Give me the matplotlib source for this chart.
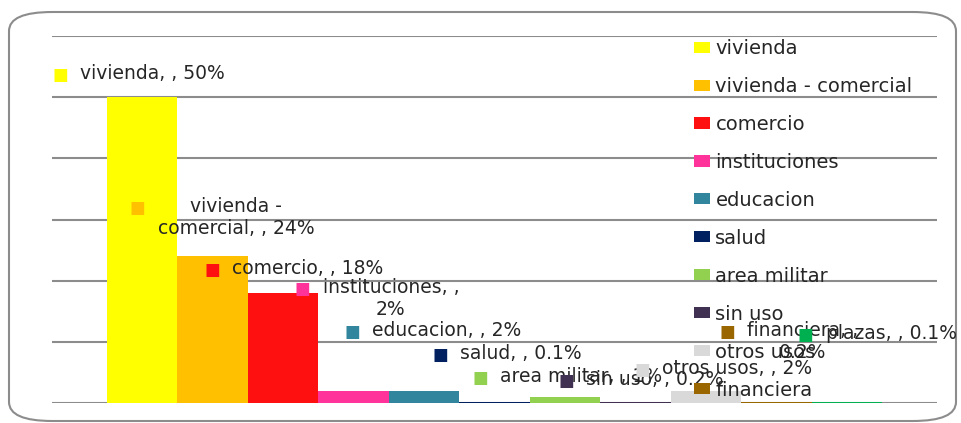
import matplotlib.pyplot as plt
from matplotlib.patches import FancyBboxPatch

# data
categorias = ["vivienda", "vivienda - comercial", "comercio", "instituciones",
              "educacion", "salud", "area militar", "sin uso", "otros usos",
              "financiera", "plazas"]
porcentajes = [50, 24, 18, 2, 2, 0.1, 1, 0.2, 2, 0.2, 0.1]
etiquetas = ["vivienda, , 50%", "vivienda -\ncomercial, , 24%", "comercio, , 18%",
             "instituciones, ,\n2%", "educacion, , 2%", "salud, , 0.1%",
             "area militar, , 1%", "sin uso, , 0.2%", "otros usos, , 2%",
             "financiera, ,\n0.2%", "plazas, , 0.1%"]
colores = ["#FFFF00", "#FFC000", "#FF1010", "#FF3399", "#31859C", "#002060",
           "#92D050", "#403152", "#D9D9D9", "#996600", "#00B050"]

# label square offset from bar top (pixels)
offsets = [(-82, 22), (-75, 48), (-71, 23), (-51, 102), (-72, 59), (-54, 47),
           (-85, 19), (-69, 21), (-64, 21), (-49, 70), (-41, 67)]

plt.rcParams['font.family'] = ['DejaVu Sans']
W, H = 962, 423
fig = plt.figure(figsize=(9.62, 4.23), dpi=100)
fig.patch.set_facecolor("white")

frame = FancyBboxPatch((9 / W, 1 - 421 / H), 947 / W, 409 / H,
                       boxstyle="round,pad=0,rounding_size=0.045",
                       transform=fig.transFigure, facecolor="none",
                       edgecolor="#8c8c8c", linewidth=1.5, zorder=-1)
fig.patches.append(frame)

ax = fig.add_axes([52 / W, 1 - 403 / H, 885 / W, 367 / H])
ax.patch.set_alpha(0)

xs = list(range(len(categorias)))
bars = ax.bar(xs, porcentajes, width=1.0, color=colores, label=categorias, zorder=2)

ax.set_ylim(0, 60)
ax.set_xlim(-1.28, 11.28)
ax.set_yticks(range(0, 61, 10))
ax.yaxis.grid(True, color="#8c8c8c", linewidth=1.5, zorder=1)
ax.set_axisbelow(True)
ax.tick_params(left=False, bottom=False, labelleft=False, labelbottom=False)
for s in ax.spines.values():
    s.set_visible(False)

for x, v, lab, c, (dx, dy) in zip(xs, porcentajes, etiquetas, colores, offsets):
    ax.annotate("■", xy=(x, v), xytext=(dx, dy), textcoords="offset pixels",
                ha="center", va="center", color=c, fontsize=12, zorder=5)
    ax.annotate(lab, xy=(x, v), xytext=(dx + 20, dy + 11), textcoords="offset pixels",
                ha="left", va="top", multialignment="center", color="#262626",
                fontsize=13.5, zorder=5, annotation_clip=False)

# the legend box only has room for the first ten entries
leg = ax.legend(handles=list(bars)[:10], labels=categorias[:10], loc="upper left",
                bbox_to_anchor=(694 / W, 1 - 39 / H), bbox_transform=fig.transFigure,
                frameon=False, fontsize=14, labelspacing=0.975, handlelength=0.8,
                handleheight=0.5, handletextpad=0.3, borderpad=0, borderaxespad=0)
for t in leg.get_texts():
    t.set_color("#262626")

fig.savefig("out.png", dpi=100, facecolor=fig.get_facecolor())
